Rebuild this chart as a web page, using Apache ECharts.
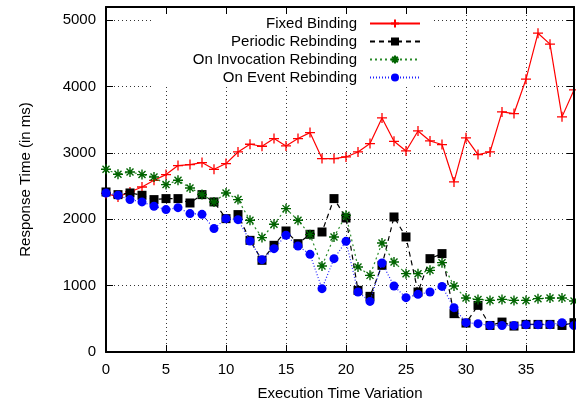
<!DOCTYPE html>
<html>
<head>
<meta charset="utf-8">
<script src="https://cdn.jsdelivr.net/npm/echarts@6/dist/echarts.min.js"></script>
<style>
  html, body { margin: 0; padding: 0; background: #fff; }
  #chart { width: 576px; height: 408px; }
</style>
</head>
<body>
<div id="chart"></div>
<script>
const xValues = [0, 1, 2, 3, 4, 5, 6, 7, 8, 9, 10, 11, 12, 13, 14, 15, 16, 17, 18, 19,
  20, 21, 22, 23, 24, 25, 26, 27, 28, 29, 30, 31, 32, 33, 34, 35, 36, 37, 38, 39];

const fixedBinding = [2390, 2336, 2412, 2487, 2588, 2674, 2810, 2825, 2855, 2754,
  2840, 3015, 3131, 3101, 3217, 3106, 3217, 3307, 2915, 2915,
  2940, 3015, 3141, 3528, 3176, 3030, 3332, 3181, 3127, 2563,
  3228, 2976, 3015, 3619, 3594, 4112, 4805, 4640, 3544, 3950];

const periodicRebinding = [2412, 2372, 2397, 2362, 2297, 2312, 2312, 2246, 2372, 2262,
  2010, 2071, 1683, 1382, 1608, 1824, 1633, 1774, 1809, 2312,
  2020, 929, 839, 1306, 2035, 1734, 904, 1407, 1483, 578,
  436, 703, 400, 451, 391, 416, 416, 416, 400, 442];

const invocationRebinding = [2754, 2679, 2714, 2674, 2638, 2523, 2588, 2472, 2375, 2262,
  2397, 2297, 1985, 1724, 1925, 2161, 1985, 1769, 1296, 1734,
  2060, 1281, 1155, 1643, 1356, 1181, 1181, 1231, 1347, 994,
  813, 793, 778, 793, 778, 778, 804, 813, 813, 768];

const eventRebinding = [2397, 2362, 2297, 2262, 2196, 2146, 2176, 2086, 2075, 1860,
  2010, 1995, 1673, 1392, 1558, 1759, 1597, 1472, 955, 1407,
  1668, 904, 763, 1341, 994, 819, 869, 904, 989, 668,
  442, 427, 400, 400, 400, 412, 412, 412, 442, 400];

const seriesNames = ["Fixed Binding", "Periodic Rebinding", "On Invocation Rebinding", "On Event Rebinding"];

const pairs = (values) => values.map((v, i) => [xValues[i], v]);

const FONT = "Liberation Sans";
const plusPath = "path://M0,5L10,5M5,0L5,10";
const starPath = "path://M0,5L10,5M5,0L5,10M1.5,1.5L8.5,8.5M1.5,8.5L8.5,1.5";

const chart = echarts.init(document.getElementById("chart"), null, { renderer: "canvas" });

const frameAxis = {
  axisLine: { show: true, onZero: false, lineStyle: { color: "#000", width: 2 } },
  axisTick: { show: true, inside: true, length: 7, lineStyle: { color: "#000", width: 1 } },
};

const gridLine = { show: true, lineStyle: { color: "#333", width: 1, type: [1, 3] } };
const labelStyle = { fontFamily: FONT, fontSize: 15, color: "#000", margin: 10 };

chart.setOption({
  animation: false,
  backgroundColor: "#fff",
  textStyle: { fontFamily: FONT },
  grid: { left: 106, right: 2, top: 7, bottom: 56 },
  legend: {
    orient: "vertical",
    right: 144,
    top: 8,
    align: "right",
    itemWidth: 50,
    itemHeight: 10,
    itemGap: 3,
    padding: [8, 11, 2, 40],
    backgroundColor: "#fff",
    data: seriesNames,
    textStyle: { fontFamily: FONT, fontSize: 15, color: "#000", lineHeight: 15, padding: [0, 8, 0, 0] },
  },
  xAxis: [
    {
      type: "value",
      min: 0,
      max: 39,
      interval: 5,
      name: "Execution Time Variation",
      nameLocation: "middle",
      nameGap: 34,
      nameTextStyle: { fontFamily: FONT, fontSize: 15, color: "#000" },
      ...frameAxis,
      axisLabel: { ...labelStyle, showMaxLabel: false },
      splitLine: gridLine,
    },
    {
      type: "value",
      position: "top",
      min: 0,
      max: 39,
      interval: 5,
      z: 10,
      ...frameAxis,
      axisLabel: { show: false },
      splitLine: { show: false },
    },
  ],
  yAxis: [
    {
      type: "value",
      min: 0,
      max: 5200,
      interval: 1000,
      name: "Response Time (in ms)",
      nameLocation: "middle",
      nameGap: 73,
      nameTextStyle: { fontFamily: FONT, fontSize: 15, color: "#000" },
      ...frameAxis,
      axisLabel: { ...labelStyle, showMaxLabel: false, formatter: (v) => String(v) },
      splitLine: gridLine,
    },
    {
      type: "value",
      position: "right",
      min: 0,
      max: 5200,
      interval: 1000,
      z: 10,
      ...frameAxis,
      axisLabel: { show: false },
      splitLine: { show: false },
    },
  ],
  series: [
    {
      name: seriesNames[0],
      type: "line",
      data: pairs(fixedBinding),
      symbol: plusPath,
      symbolSize: 10,
      lineStyle: { color: "#ff0000", width: 1.2 },
      itemStyle: { color: "#ff0000", borderColor: "#ff0000", borderWidth: 1.3 },
      z: 3,
    },
    {
      name: seriesNames[1],
      type: "line",
      data: pairs(periodicRebinding),
      symbol: "rect",
      symbolSize: 9,
      lineStyle: { color: "#000", width: 1.2, type: [5, 4] },
      itemStyle: { color: "#000" },
      z: 4,
    },
    {
      name: seriesNames[2],
      type: "line",
      data: pairs(invocationRebinding),
      symbol: starPath,
      symbolSize: 10,
      lineStyle: { color: "#2a8a2a", width: 1.2, type: [2, 3] },
      itemStyle: { color: "#006400", borderColor: "#006400", borderWidth: 1.4 },
      z: 5,
    },
    {
      name: seriesNames[3],
      type: "line",
      data: pairs(eventRebinding),
      symbol: "circle",
      symbolSize: 9,
      lineStyle: { color: "#2020ff", width: 1.2, type: [1, 2] },
      itemStyle: { color: "#0000ff" },
      z: 6,
    },
  ],
});
</script>
</body>
</html>
